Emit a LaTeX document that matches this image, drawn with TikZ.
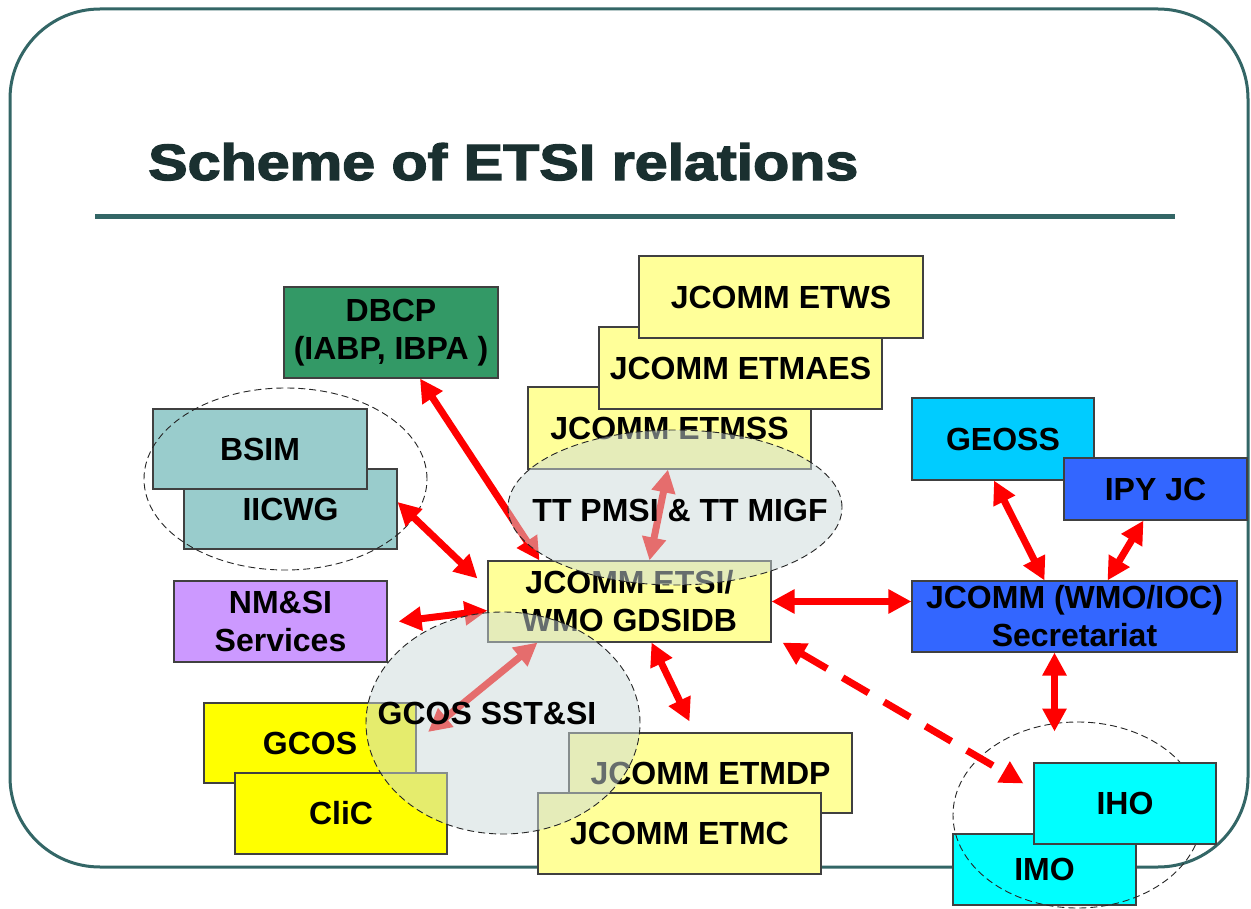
\documentclass[tikz,border=0pt]{standalone}
\usepackage{fontspec}
\setmainfont{Liberation Sans}
\newfontfamily\titlefont[FakeBold=2.5]{Liberation Sans}
\usetikzlibrary{arrows.meta,shapes.geometric}
\definecolor{framecol}{HTML}{336666}
\definecolor{titlecol}{HTML}{1A3030}
\definecolor{lyellow}{HTML}{FFFF99}
\definecolor{fyellow}{HTML}{FFFF00}
\definecolor{dgreen}{HTML}{339966}
\definecolor{teal1}{HTML}{99CCCC}
\definecolor{lilac}{HTML}{CC99FF}
\definecolor{skyblue}{HTML}{00CCFF}
\definecolor{royal}{HTML}{3366FF}
\definecolor{cyanbox}{HTML}{00FFFF}
\definecolor{ellfill}{RGB}{205,218,218}
\newcommand\myboxfont{\bfseries\fontsize{32}{38}\selectfont}
\newcommand\mytitletext{\titlefont\bfseries\fontsize{51}{51}\selectfont\scalebox{1.16}[1]{Scheme of ETSI relations}}
\begin{document}
\begin{tikzpicture}[x=1pt,y=-1pt,
  box/.style={draw=black!75, line width=1.1pt, inner sep=0pt, align=center, font=\myboxfont},
  grpell/.style={ellipse, draw=black!85, line width=0.9pt, dash pattern=on 7pt off 4pt, inner sep=0pt},
  glass/.style={ellipse, draw=black!85, line width=0.9pt, dash pattern=on 7pt off 4pt, inner sep=0pt, fill=ellfill, fill opacity=0.5, draw opacity=1},
  rarr/.style={draw=red, line width=7pt, {Triangle[length=23pt,width=23pt]}-{Triangle[length=23pt,width=23pt]}},
  lbl/.style={inner sep=0pt, font=\myboxfont}
]
\useasboundingbox (0,0) rectangle (1251,909);
\fill[white] (0,0) rectangle (1251,909);
% frame
\draw[framecol, line width=3pt, rounded corners=90pt] (10,9) rectangle (1248,867);
% title
\node[anchor=base west, inner sep=0pt, text=titlecol] (title) at (148,180) {\mytitletext};
\draw[framecol, line width=5pt] (95,217) -- (1175,217);

% boxes
\node[box, fill=dgreen, minimum width=214pt, minimum height=91pt] (dbcp) at (391,332.5) {DBCP\\(IABP, IBPA )};
\node[box, fill=teal1, minimum width=213pt, minimum height=80pt] (iicwg) at (290.5,509) {IICWG};
\node[box, fill=teal1, minimum width=214pt, minimum height=80pt] (bsim) at (260,449) {BSIM};
\node[box, fill=lilac, minimum width=213pt, minimum height=81pt] (nmsi) at (280.5,621.5) {NM\&SI\\Services};
\node[box, fill=lyellow, minimum width=283pt, minimum height=82pt] (etmss) at (669.5,428) {JCOMM ETMSS};
\node[box, fill=lyellow, minimum width=283pt, minimum height=82pt] (etmaes) at (740.5,368) {JCOMM ETMAES};
\node[box, fill=lyellow, minimum width=284pt, minimum height=82pt] (etws) at (781,297) {JCOMM ETWS};
\node[box, fill=lyellow, minimum width=283pt, minimum height=81pt] (etsi) at (629.5,601.5) {JCOMM ETSI/\\WMO GDSIDB};
\node[box, fill=skyblue, minimum width=182pt, minimum height=82pt] (geoss) at (1003,439) {GEOSS};
\node[box, fill=royal, minimum width=183pt, minimum height=62pt] (ipy) at (1155.5,489) {IPY JC};
\node[box, fill=royal, minimum width=325pt, minimum height=71pt] (sec) at (1074.5,616.5) {JCOMM (WMO/IOC)\\Secretariat};
\node[box, fill=fyellow, minimum width=212pt, minimum height=80pt] (gcos) at (310,743) {GCOS};
\node[box, fill=fyellow, minimum width=212pt, minimum height=81pt] (clic) at (341,813.5) {CliC};
\node[box, fill=lyellow, minimum width=283pt, minimum height=80pt] (etmdp) at (710.5,773) {JCOMM ETMDP};
\node[box, fill=lyellow, minimum width=283pt, minimum height=81pt] (etmc) at (679.5,833.5) {JCOMM ETMC};
\node[box, fill=cyanbox, minimum width=183pt, minimum height=71pt] (imo) at (1044.5,869.5) {IMO};
\node[grpell, minimum width=249pt, minimum height=186pt] (ihoell) at (1077.5,815) {};
\node[box, fill=cyanbox, minimum width=182pt, minimum height=81pt] (iho) at (1125,803.5) {IHO};
\node[grpell, minimum width=283pt, minimum height=182pt] (bsimell) at (285.5,479) {};

% connectors
\coordinate (gcostip) at (428,732);
\draw[rarr] ([xshift=29pt]dbcp.south) -- ([xshift=-90pt]etsi.north);
\draw[rarr] ([yshift=7pt]iicwg.east) -- ([xshift=-10pt,yshift=23pt]etsi.west);
\draw[rarr] ([xshift=11pt]nmsi.east) -- ([yshift=-9pt]etsi.west);
\draw[rarr] ([xshift=-1.5pt]etmss.south) -- ([xshift=20pt]etsi.north);
\draw[rarr] ([xshift=-92pt]etsi.south) -- (gcostip);
\draw[rarr] ([xshift=22pt]etsi.south) -- ([xshift=-21pt,yshift=11pt]etmdp.north);
\draw[rarr] (etsi.east) -- ([yshift=15pt]sec.west);
\draw[rarr, dash pattern=on 30pt off 18pt] ([xshift=11pt]etsi.south east) -- ([xshift=-10pt,yshift=20pt]iho.west);
\draw[rarr] ([xshift=-9pt]geoss.south) -- ([xshift=-30pt]sec.north);
\draw[rarr] ([xshift=-12pt]ipy.south) -- ([xshift=33pt]sec.north);
\draw[rarr] ([xshift=-20pt]sec.south) -- ([xshift=-23pt,yshift=-10pt]ihoell.north);

% translucent groups
\node[glass, minimum width=334pt, minimum height=155pt] (ttell) at (675,507.5) {};
\node[lbl] (tttext) at (680,510) {TT PMSI \& TT MIGF};
\node[glass, minimum width=274pt, minimum height=222pt] (gcosell) at (503,723) {};
\node[lbl] (gcostext) at (487,713) {GCOS SST\&SI};
\end{tikzpicture}
\end{document}
